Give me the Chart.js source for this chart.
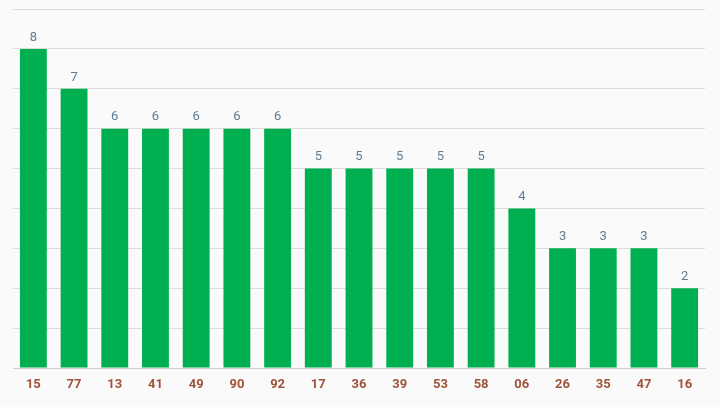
<!DOCTYPE html>
<html>
<head>
<meta charset="utf-8">
<script src="https://cdn.jsdelivr.net/npm/chart.js@4/dist/chart.umd.min.js"></script>
<style>
  html, body { margin: 0; padding: 0; background: #fafafa; }
  #wrap { position: relative; width: 720px; height: 407px; }
</style>
</head>
<body>
<div id="wrap"><canvas id="chart"></canvas></div>
<script>
// numbers and how many times each came out
const categories = ['15','77','13','41','49','90','92','17','36','39','53','58','06','26','35','47','16'];
const counts     = [8, 7, 6, 6, 6, 6, 6, 5, 5, 5, 5, 5, 4, 3, 3, 3, 2];
const yMax = 9;

// draws the count above each bar
const valueLabels = {
  id: 'valueLabels',
  afterDatasetsDraw(chart) {
    const ctx = chart.ctx;
    const meta = chart.getDatasetMeta(0);
    ctx.save();
    ctx.fillStyle = '#5f7d95';
    ctx.font = '13px Roboto';
    ctx.textAlign = 'center';
    ctx.textBaseline = 'bottom';
    meta.data.forEach((bar, i) => {
      ctx.fillText(counts[i], bar.x, bar.y - 5);
    });
    ctx.restore();
  }
};

new Chart(document.getElementById('chart'), {
  type: 'bar',
  data: {
    labels: categories,
    datasets: [{
      data: counts,
      backgroundColor: '#00b050',
      borderWidth: 0,
      categoryPercentage: 1,
      barPercentage: 0.66,
    }],
  },
  options: {
    responsive: true,
    maintainAspectRatio: false,
    animation: false,
    layout: { padding: { left: 13, right: 15, top: 9, bottom: 0 } },
    plugins: { legend: { display: false }, tooltip: { enabled: false } },
    scales: {
      x: {
        grid: { display: false },
        border: { color: '#d0d0d0' },
        ticks: { color: '#a0533a', font: { family: 'Roboto', size: 13, weight: 'bold' }, padding: 1, maxRotation: 0 },
        afterFit(scale) { scale.height = 39; },
      },
      y: {
        min: 0,
        max: yMax,
        grid: { color: '#dcdcdc', drawTicks: false },
        border: { display: false },
        ticks: { display: false, stepSize: 1 },
      },
    },
  },
  plugins: [valueLabels],
});
</script>
</body>
</html>
